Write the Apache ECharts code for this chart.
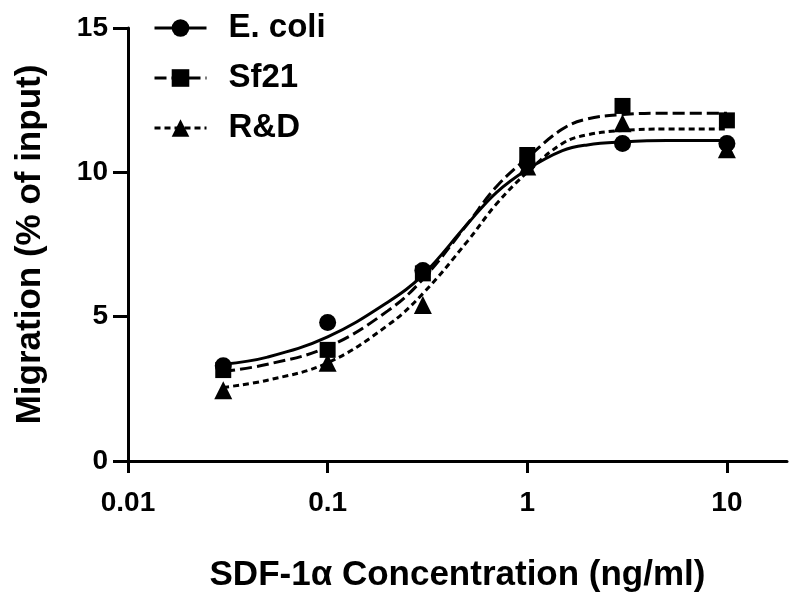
<!DOCTYPE html>
<html>
<head>
<meta charset="utf-8">
<script src="https://cdn.jsdelivr.net/npm/echarts@6/dist/echarts.min.js"></script>
<style>html,body{margin:0;padding:0;background:#fff}#c{width:800px;height:604px}</style>
</head>
<body>
<div id="c"></div>
<script>
// Measured points
var concentrations = [0.03, 0.1, 0.3, 1, 3, 10];
var ecoliPoints = [3.3, 4.8, 6.6, 10.3, 11.0, 11.0];
var sf21Points  = [3.15, 3.85, 6.5, 10.6, 12.3, 11.8];
var rndPoints   = [2.45, 3.4, 5.4, 10.2, 11.7, 10.8];

// Fitted curves
var curveX      = [0.03, 0.05, 0.1, 0.2, 0.3, 0.5, 0.7, 1, 1.5, 2, 3, 5, 10];
var ecoliCurve  = [3.35, 3.6, 4.3, 5.5, 6.45, 8.2, 9.3, 10.1, 10.75, 10.95, 11.05, 11.1, 11.1];
var sf21Curve   = [3.1, 3.35, 3.95, 5.2, 6.3, 8.2, 9.5, 10.5, 11.5, 11.85, 12.0, 12.05, 12.05];
var rndCurve    = [2.55, 2.8, 3.4, 4.7, 5.8, 7.6, 8.9, 10.0, 11.0, 11.3, 11.45, 11.5, 11.5];

var seriesNames = ['E. coli', 'Sf21', 'R&D'];
var xTicks = [0.01, 0.1, 1, 10];
var yTicks = [0, 5, 10, 15];

function pairs(xs, ys) { return xs.map(function (x, i) { return [x, ys[i]]; }); }

var FONT = '"Liberation Sans", Arial, sans-serif';
var chart = echarts.init(document.getElementById('c'), null, { renderer: 'canvas' });

var styles = [
  { symbol: 'circle', size: 17, dash: 'solid' },
  { symbol: 'rect', size: 16, dash: [12, 5] },
  { symbol: 'triangle', size: 18, dash: [6, 4] }
];
var curves = [ecoliCurve, sf21Curve, rndCurve];
var points = [ecoliPoints, sf21Points, rndPoints];

var series = [];
seriesNames.forEach(function (name, i) {
  series.push({
    name: name,
    type: 'line',
    smooth: 0.4,
    data: pairs(curveX, curves[i]),
    symbol: styles[i].symbol,
    symbolSize: styles[i].size,
    showSymbol: false,
    itemStyle: { color: '#000', opacity: 1 },
    lineStyle: { color: '#000', width: 3, type: styles[i].dash },
    z: 2
  });
  series.push({
    name: name + ' points',
    type: 'scatter',
    data: pairs(concentrations, points[i]),
    symbol: styles[i].symbol,
    symbolSize: styles[i].size,
    itemStyle: { color: '#000', opacity: 1 },
    z: 3
  });
});

chart.setOption({
  animation: false,
  backgroundColor: '#fff',
  textStyle: { fontFamily: FONT },
  legend: {
    data: seriesNames,
    orient: 'vertical',
    left: 148,
    top: 6,
    itemWidth: 52,
    itemHeight: 22,
    itemGap: 16,
    lineStyle: { width: 3 },
    textStyle: { fontFamily: FONT, fontWeight: 'bold', fontSize: 33, lineHeight: 34, color: '#000', padding: [0, 0, 0, 17] }
  },
  grid: { left: 128, right: 13, top: 28, bottom: 143, containLabel: false },
  xAxis: {
    type: 'log',
    logBase: 10,
    min: 0.01,
    max: 20,
    name: 'SDF-1\u03b1 Concentration (ng/ml)',
    nameLocation: 'middle',
    nameGap: 97,
    nameTextStyle: { fontFamily: FONT, fontWeight: 'bold', fontSize: 35, color: '#000' },
    axisLine: { lineStyle: { color: '#000', width: 3 } },
    axisTick: { length: 12, customValues: xTicks, lineStyle: { color: '#000', width: 3 } },
    axisLabel: { customValues: xTicks, fontFamily: FONT, fontWeight: 'bold', fontSize: 28, color: '#000', margin: 28 },
    splitLine: { show: false }
  },
  yAxis: {
    type: 'value',
    min: 0,
    max: 15,
    interval: 5,
    name: 'Migration (% of input)',
    nameLocation: 'middle',
    nameGap: 80,
    nameTextStyle: { fontFamily: FONT, fontWeight: 'bold', fontSize: 35, color: '#000' },
    axisLine: { show: true, lineStyle: { color: '#000', width: 3 } },
    axisTick: { show: true, length: 15, customValues: yTicks, lineStyle: { color: '#000', width: 3 } },
    axisLabel: { customValues: yTicks, fontFamily: FONT, fontWeight: 'bold', fontSize: 28, color: '#000', margin: 20 },
    splitLine: { show: false }
  },
  series: series
});
</script>
</body>
</html>
